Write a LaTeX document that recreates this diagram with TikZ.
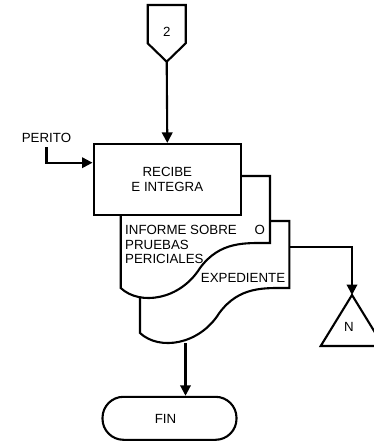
\documentclass[tikz,border=0pt]{standalone}
\usepackage{fontspec}
\setmainfont{Liberation Sans}
\usetikzlibrary{arrows.meta}
\begin{document}
\begin{tikzpicture}[x=1pt,y=-1pt,
  ln/.style={line width=2.1pt},
  flow/.style={ln, -{Triangle[length=10.5pt,width=10.5pt]}},
  txt/.style={font=\fontsize{13.3}{15}\selectfont, inner sep=0pt},
  procbox/.style={ln, draw, fill=white, minimum width=147.5pt, minimum height=71pt,
    align=center, inner sep=0pt, font=\fontsize{13.3}{15}\selectfont},
  terminal/.style={ln, draw, rounded corners=21pt, minimum width=134pt, minimum height=43pt},
  docpage/.pic={
    \path[ln, draw, fill=white] (0,112) -- (0,0) -- (149.3,0) -- (149.3,67)
      .. controls (124.3,67) and (99.3,65) .. (79.3,92)
      .. controls (59.3,124) and (19.3,130) .. (0,112) -- cycle;
    \coordinate (-e) at (149.3,26);
    \coordinate (-s) at (45.5,122);
  },
]
\useasboundingbox (0,0) rectangle (374,442);
\clip (0,0) rectangle (374,442);

% off-page connector
\draw[ln, fill=white] (147.7,5) -- (185.7,5) -- (185.7,43.3) -- (166.7,61.7) -- (147.7,43.3) -- cycle;
\coordinate (offpg) at (166.7,61.7);
\node[txt] (two) at (166.7,31.5) {2};

% stacked documents
\pic (doc2) at (140,221) {docpage};
\pic (doc1) at (120.7,176) {docpage};

% process box
\node[procbox] (recibe) at (167.3,179.5) {RECIBE\\E INTEGRA};

% texts on the documents
\node[txt, anchor=base west] (inf1) at (125,234.3) {INFORME SOBRE};
\node[txt, anchor=base west] (inf2) at (125,249) {PRUEBAS};
\node[txt, anchor=base west] (inf3) at (125,263.5) {PERICIALES};
\node[txt, anchor=base west] (conj) at (254.3,234.3) {O};
\node[txt, anchor=base west] (exped) at (200.7,282.5) {EXPEDIENTE};

% external input
\node[txt, anchor=base] (perito) at (46.5,142.7) {PERITO};
\coordinate (pin) at (recibe.west |- 0,162.7);

% off-page triangle
\coordinate (ntop) at (352,295);
\draw[ln, fill=white] (ntop) -- (383.3,346) -- (320.7,346) -- cycle;
\node[txt] (nlbl) at (349,326.5) {N};

% terminal
\node[terminal] (fin) at (169.5,418.3) {};
\node[txt] (finlbl) at (165.5,418.5) {FIN};

% connectors
\draw[flow] (offpg) -- (recibe.north);
\draw[flow] (perito.base) ++(0,4.5) |- (pin);
\draw[flow] (doc2-e) -| (ntop);
\draw[flow] (doc2-s) -- (doc2-s |- fin.north);
\end{tikzpicture}
\end{document}
